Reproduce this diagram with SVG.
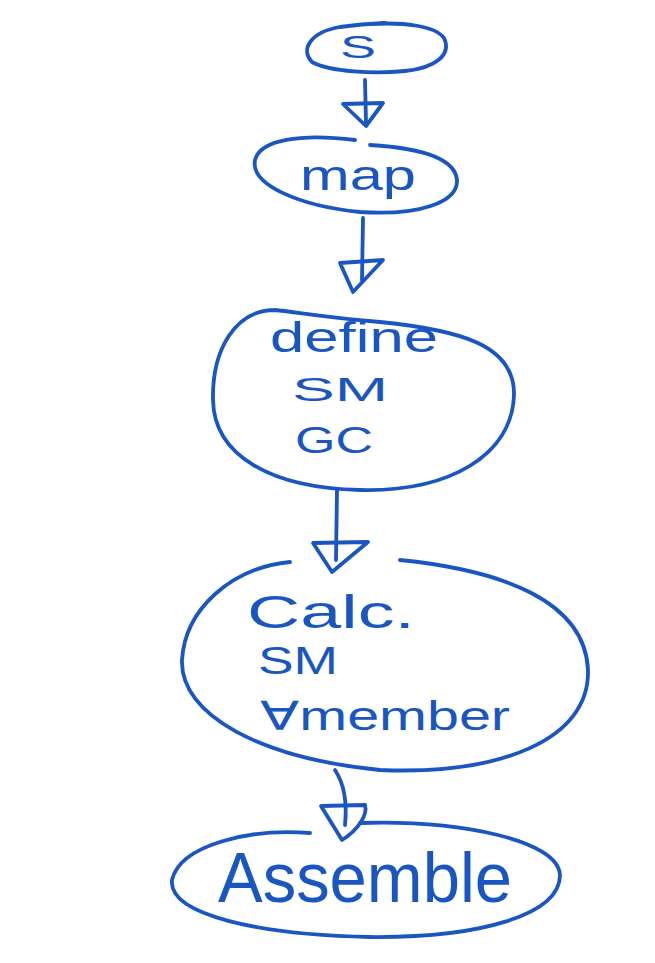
<svg xmlns="http://www.w3.org/2000/svg" width="655" height="963" viewBox="0 0 655 963">
<style>
.n{fill:none;stroke:#1a56c2;stroke-width:3.8;stroke-linecap:round;stroke-linejoin:round}
.c{fill:none;stroke:#1a56c2;stroke-width:3.8;stroke-linecap:round;stroke-linejoin:round}
.t{fill:#1a56c2;font-family:"Liberation Sans","DejaVu Sans",sans-serif;font-weight:normal}
</style>
<rect width="655" height="963" fill="#ffffff"/>
<g id="node-s">
<path class="n" d="M370,24 C405,22 435,26 444,38 C452,55 435,68 405,71 C375,74 330,72 312,62 C300,50 310,32 340,27 C355,25 365,24 385,23"/>
<text class="t" x="340" y="58" font-size="32" textLength="36" lengthAdjust="spacingAndGlyphs">S</text>
</g>
<g id="node-map">
<path class="n" d="M355,140 C300,133 260,140 255,160 C250,185 300,206 360,212 C420,216 458,202 457,180 C455,158 420,148 370,145"/>
<text class="t" x="300" y="190" font-size="42" textLength="116" lengthAdjust="spacingAndGlyphs">map</text>
</g>
<g id="node-define">
<path class="n" d="M275,310 C235,310 212,350 213,400 C214,455 270,488 360,490 C450,492 512,455 514,395 C515,345 460,330 380,322 C330,318 295,312 275,310"/>
<text class="t" x="270" y="352" font-size="42" textLength="168" lengthAdjust="spacingAndGlyphs">define</text>
<text class="t" x="292" y="401" font-size="34" textLength="96" lengthAdjust="spacingAndGlyphs">SM</text>
<text class="t" x="295" y="453" font-size="36" textLength="78" lengthAdjust="spacingAndGlyphs">GC</text>
</g>
<g id="node-calc">
<path class="n" d="M290,562 C230,568 185,610 182,660 C180,715 260,758 380,770 C500,775 590,740 588,670 C585,600 500,570 400,560"/>
<text class="t" x="247" y="628" font-size="46" textLength="168" lengthAdjust="spacingAndGlyphs">Calc.</text>
<text class="t" x="258" y="674" font-size="38" textLength="80" lengthAdjust="spacingAndGlyphs">SM</text>
<text class="t" x="260" y="730" font-size="40" textLength="250" lengthAdjust="spacingAndGlyphs">∀member</text>
</g>
<g id="node-assemble">
<path class="n" d="M310,833 C250,828 180,845 172,880 C168,915 260,935 370,937 C480,938 560,915 560,875 C558,840 460,820 360,823"/>
<text class="t" x="218" y="902" font-size="70" textLength="294" lengthAdjust="spacingAndGlyphs">Assemble</text>
</g>
<g id="connectors">
<path class="c" d="M365,80 L366,122"/>
<path class="c" d="M343,104 L383,103 L366,126 Z"/>
<path class="c" d="M363,218 L362,280"/>
<path class="c" d="M340,263 L383,260 L353,292 Z"/>
<path class="c" d="M337,490 L336,560"/>
<path class="c" d="M313,543 L368,542 L332,572 Z"/>
<path class="c" d="M335,770 C345,785 347,805 345,825"/>
<path class="c" d="M321,806 L365,805 C368,815 358,830 342,840 Z"/>
</g>
</svg>
